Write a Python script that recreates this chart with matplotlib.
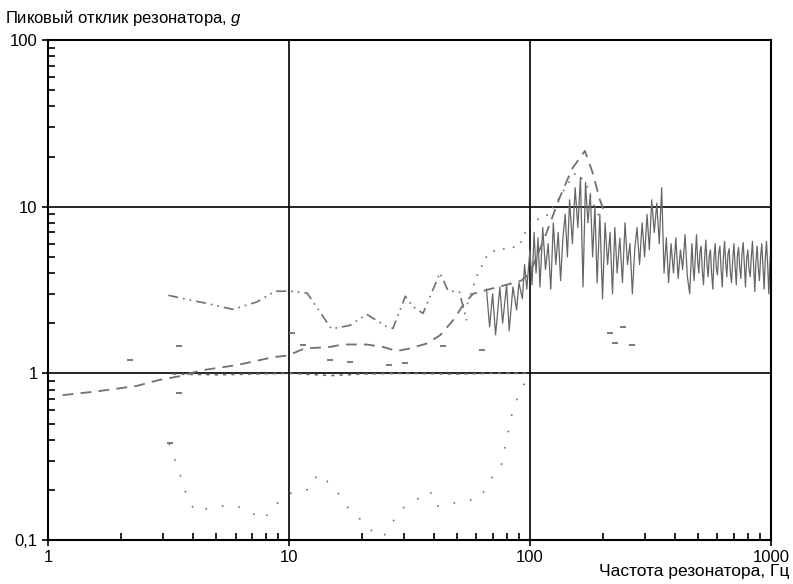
import numpy as np
import matplotlib.pyplot as plt

plt.rcParams['font.family'] = ['Liberation Sans', 'DejaVu Sans']
plt.rcParams['mathtext.fontset'] = 'custom'
plt.rcParams['mathtext.it'] = 'Liberation Sans:italic'

# ---------------- data ----------------
# smooth rising curve with the main resonance peak (dashed)
f_a = [1.15, 1.6, 2.33, 2.87, 3.63, 4.27, 6.07, 8.6, 9.9, 11.6, 14.8, 16.7, 21, 24.6, 28,
       31.7, 37.3, 42.3, 48, 52.7, 58, 68, 80, 92, 100, 115, 133, 150, 169, 182, 195, 205]
g_a = [0.74, 0.78, 0.84, 0.91, 0.97, 1.04, 1.12, 1.25, 1.28, 1.41, 1.44, 1.49, 1.49, 1.44, 1.36,
       1.41, 1.51, 1.69, 2.08, 2.56, 3.0, 3.2, 3.4, 3.6, 4.0, 6.5, 11.4, 17.0, 21.6, 16.0, 11.0, 9.0]

# upper zig-zag curve (dash-dot-dot)
f_b = [3.16, 3.63, 4.55, 5.85, 7.35, 8.75, 10.1, 11.9, 15.0, 16.3, 17.9, 21, 25.4, 27,
       30.4, 32.6, 36, 42.3, 45.7, 51, 54.6]
g_b = [2.94, 2.81, 2.63, 2.42, 2.68, 3.11, 3.11, 3.03, 1.85, 1.89, 1.94, 2.26, 1.91, 1.86,
       2.9, 2.52, 2.29, 4.0, 3.14, 3.07, 2.08]

# dotted curve lying on the 1 g line
f_c = [3.3, 5, 7, 10, 15, 20, 30, 50, 70, 100]
g_c = [0.99, 0.98, 0.99, 1.0, 0.97, 0.99, 1.0, 0.99, 1.0, 1.0]

# low sparse dotted curve
f_d = [3.18, 3.59, 3.76, 4.07, 4.34, 5.1, 5.96, 7.95, 8.3, 10, 12.4, 13.1, 15.3, 17.8,
       20.4, 21.3, 24.6, 29, 38.5, 40.6, 62, 70.4, 76, 85, 92, 100]
g_d = [0.379, 0.23, 0.185, 0.149, 0.152, 0.159, 0.162, 0.133, 0.152, 0.19, 0.203, 0.25, 0.21, 0.152,
       0.128, 0.117, 0.104, 0.152, 0.197, 0.159, 0.178, 0.245, 0.28, 0.61, 0.8, 1.0]

# dotted curve rising into 100 Hz
f_f = [55, 60, 66, 72, 80, 90, 100, 120, 140, 155, 170, 185, 200]
g_f = [2.6, 3.8, 5.0, 5.5, 5.6, 5.8, 8.0, 9.0, 13.0, 16.0, 14.0, 10.0, 8.0]

# scattered short fragments
f_h = [2.2, 3.5, 3.5, 10.3, 11.4, 14.8, 17.9, 26, 30.4, 43.6, 63, 3.2, 215, 225, 243, 265]
g_h = [1.2, 1.45, 0.76, 1.75, 1.47, 1.2, 1.17, 1.12, 1.15, 1.45, 1.39, 0.38, 1.74, 1.53, 1.89, 1.47]

# dense noisy response above ~65 Hz
f_e = [66, 68, 70, 72, 75, 77, 80, 82, 85, 88, 90, 93, 95, 97, 100,
       102, 104, 106, 108, 110, 113, 116, 119, 122, 125, 128, 131, 134, 137, 140,
       143, 146, 150, 154, 158, 162, 166, 170, 174, 178, 182, 186, 190, 195, 200,
       205, 210, 215, 220, 225, 230, 236, 242, 248, 254, 260, 266, 272,
       278, 285, 292, 299, 306, 313, 320, 328, 336, 344, 352, 360,
       368, 376, 385, 394, 403, 412, 421, 430, 440, 450, 460,
       470, 475, 480, 486, 491, 497, 502, 508, 513, 519, 525, 531, 537, 543, 549, 555,
       561, 567, 574, 580, 587, 593, 600, 607, 614, 621, 628, 635, 642, 649,
       656, 663, 671, 678, 686, 694, 702, 710, 718, 726, 734, 742, 750, 758,
       767, 775, 784, 793, 802, 811, 820, 829, 838, 847, 857, 866, 876, 886,
       896, 906, 916, 926, 937, 947, 958, 969, 980, 990, 1000]
g_e = [3.2, 1.9, 3.0, 1.7, 3.3, 2.0, 3.4, 1.8, 3.3, 2.4, 3.5, 2.8, 4.5, 3.2, 5.5,
       3.4, 7.0, 4.0, 6.5, 3.3, 7.5, 4.2, 6.0, 3.2, 8.0, 4.5, 7.0, 3.6, 6.5, 9.0,
       5.0, 11.0, 6.0, 13.0, 7.5, 15.0, 3.3, 14.0, 8.0, 12.0, 5.0, 10.0, 3.5, 9.0, 2.8,
       8.0, 4.5, 7.0, 3.0, 7.5, 4.0, 6.5, 3.5, 8.0, 4.5, 6.0, 3.0, 5.5,
       7.5, 4.5, 8.0, 5.0, 9.0, 5.5, 11.0, 7.0, 10.5, 6.0, 13.0, 4.0,
       6.5, 3.5, 6.0, 4.0, 6.5, 3.7, 5.5, 4.2, 6.8, 3.8, 3.0,
       6.0, 4.4, 3.6, 5.2, 6.8, 4.6, 4.0, 5.4, 5.8, 4.1, 3.4, 5.0, 6.3, 4.5, 3.8, 5.1,
       5.5, 4.0, 3.2, 4.9, 6.0, 4.3, 3.9, 5.3, 5.8, 4.2, 3.3, 5.0, 6.2, 4.6,
       3.8, 5.2, 5.6, 4.1, 3.5, 4.8, 6.0, 4.4, 3.4, 5.1, 5.7, 4.3, 3.7, 5.2,
       6.1, 4.5, 3.3, 4.9, 5.5, 4.2, 3.8, 5.0, 6.2, 4.4, 3.1, 4.7, 5.8, 4.3,
       3.6, 5.0, 6.0, 4.4, 3.2, 4.8, 6.2, 4.5, 3.0, 4.6, 5.8]

xticks = [1, 10, 100, 1000]
xtick_labels = ['1', '10', '100', '1000']
yticks = [0.1, 1, 10, 100]
ytick_labels = ['0,1', '1', '10', '100']

# ---------------- plot ----------------
fig = plt.figure(figsize=(7.93, 5.84), dpi=100)
ax = fig.add_axes([0.0605, 0.0753, 0.9117, 0.8562])
gray = '#707070'

ax.plot(f_e, g_e, color='#666666', lw=0.9)
ax.plot(f_a, g_a, color=gray, lw=1.3, ls=(0, (6, 4)))
ax.plot(f_b, g_b, color=gray, lw=1.2, ls=(0, (6, 3, 1, 3, 1, 3)))
ax.plot(f_c, g_c, color=gray, lw=1.2, ls=(0, (2, 3)))
ax.plot(f_d, g_d, color=gray, lw=1.2, ls=(0, (1, 9)))
ax.plot(f_f, g_f, color=gray, lw=1.2, ls=(0, (1, 5)))
ax.plot(f_h, g_h, color=gray, ls='none', marker='_', markersize=5, mew=1.3)

ax.set_xscale('log')
ax.set_yscale('log')
ax.set_xlim(1, 1000)
ax.set_ylim(0.1, 100)
ax.set_xticks(xticks, labels=xtick_labels)
ax.set_yticks(yticks, labels=ytick_labels)
ax.grid(True, which='major', color='black', lw=1.2)
ax.tick_params(which='major', direction='out', length=4, width=1.2, labelsize=12)
ax.tick_params(which='minor', direction='in', length=5, width=1.2)
ax.tick_params(axis='x', pad=3)
for s in ax.spines.values():
    s.set_linewidth(1.5)

fig.text(0.006, 0.969, r'Пиковый отклик резонатора, $g$', fontsize=12, va='center')
fig.text(0.996, 0.021, 'Частота резонатора, Гц', fontsize=12.5, ha='right', va='center')

fig.savefig('out.png', dpi=100)
